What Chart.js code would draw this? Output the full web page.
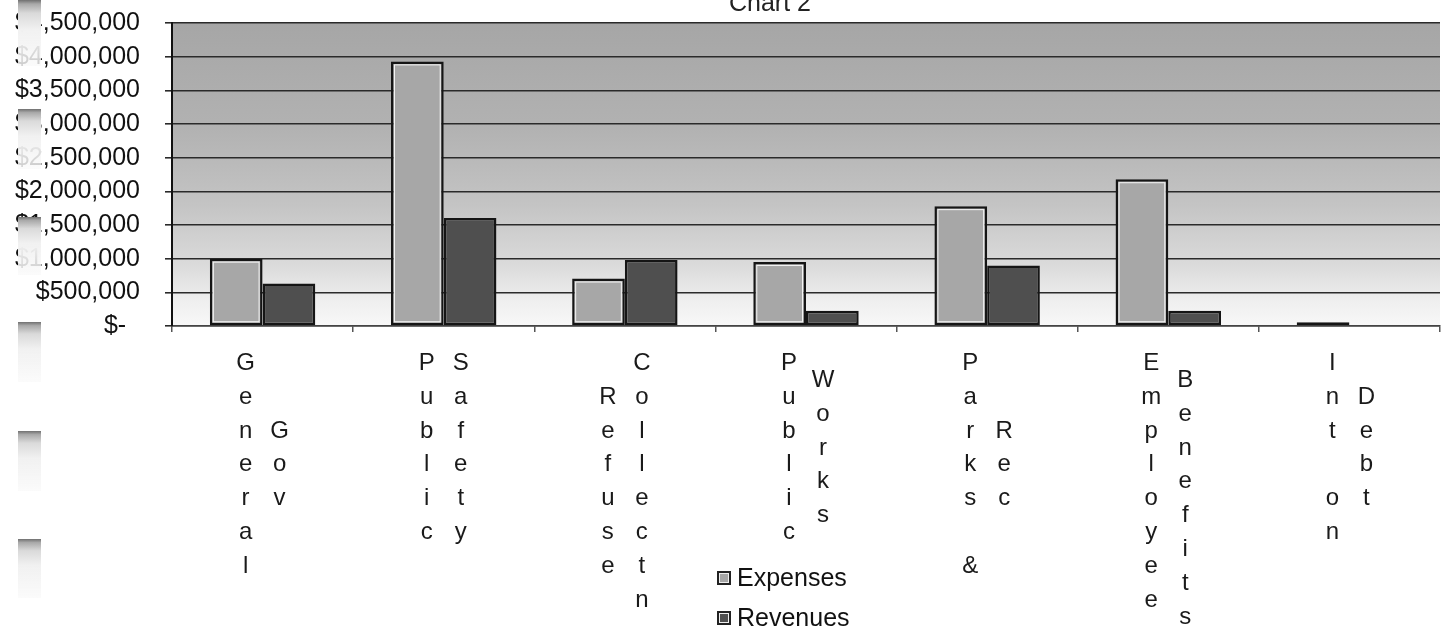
<!DOCTYPE html>
<html>
<head>
<meta charset="utf-8">
<script src="https://cdn.jsdelivr.net/npm/chart.js@4.4.1/dist/chart.umd.min.js"></script>
<style>
    html, body { margin: 0; padding: 0; background: #fff; overflow: hidden; }
    body { width: 1442px; height: 628px; position: relative; font-family: "Liberation Sans", Arial, sans-serif; }
    #chart2 { position: absolute; left: 0; top: 0; }
    #title { position: absolute; left: 670px; width: 200px; top: -13px; text-align: center;
             font-size: 25px; line-height: 30px; color: #222; }
    .blob { position: absolute; left: 18px; width: 23px;
            background: linear-gradient(#707070 0, #a9a9a9 6%, #dadada 20%, #f1f1f1 45%, rgba(250,250,250,0.8) 100%); }
    #legend { position: absolute; left: 717px; top: 562px; color: #111; font-size: 25px; }
    .legend-item { height: 40px; line-height: 30px; display: flex; align-items: flex-start; }
    .legend-box { width: 10px; height: 10px; border: 2px solid #222; margin: 9px 6px 0 0; box-shadow: inset 0 0 0 1px #eee; }
</style>
</head>
<body>
<canvas id="chart2" width="1442" height="628"></canvas>
<div id="title">Chart 2</div>
<div class="blob" style="top:0;height:66px"></div>
<div class="blob" style="top:109px;height:60px"></div>
<div class="blob" style="top:217px;height:58px"></div>
<div class="blob" style="top:322px;height:60px"></div>
<div class="blob" style="top:431px;height:60px"></div>
<div class="blob" style="top:539px;height:59px"></div>
<div id="legend"></div>
<script>
// category names, split the way the axis wraps them into two stacked columns
const categories = [
    ['General', 'Gov'],
    ['Public', 'Safety'],
    ['Refuse', 'Collectn'],
    ['Public', 'Works'],
    ['Parks &', 'Rec'],
    ['Employee ', 'Benefits'],
    ['Int on', 'Debt']
];
const expenses = [1000000, 3930000, 705000, 950000, 1780000, 2180000, 55000];
const revenues = [630000, 1605000, 980000, 225000, 900000, 225000, 0];
const seriesNames = ['Expenses', 'Revenues'];
const seriesColors = ['#a7a7a7', '#4f4f4f'];

const yMax = 4500000;
const yStep = 500000;

function moneyLabel(v) {
    if (v === 0) return '$-  ';
    return '$' + String(v).replace(/\B(?=(\d{3})+(?!\d))/g, ',');
}

// shaded plot background, dark at the top fading to white at the axis
const plotBackground = {
    id: 'plotBackground',
    beforeDraw(chart) {
        const { ctx, chartArea: a } = chart;
        const g = ctx.createLinearGradient(0, a.top, 0, a.bottom);
        g.addColorStop(0, '#a6a6a6');
        g.addColorStop(0.35, '#b2b2b2');
        g.addColorStop(0.6, '#c4c4c4');
        g.addColorStop(0.8, '#dbdbdb');
        g.addColorStop(0.92, '#efefef');
        g.addColorStop(1, '#f8f8f8');
        ctx.save();
        ctx.fillStyle = g;
        ctx.fillRect(a.left, a.top, a.right - a.left, a.bottom - a.top);
        ctx.restore();
    }
};

// thin white inner frame on the light bars
const barFrame = {
    id: 'barFrame',
    afterDatasetsDraw(chart) {
        const ctx = chart.ctx;
        const meta = chart.getDatasetMeta(0);
        ctx.save();
        ctx.strokeStyle = '#f4f4f4';
        ctx.lineWidth = 1;
        meta.data.forEach(bar => {
            const h = bar.base - bar.y;
            if (h < 10) return;
            ctx.strokeRect(bar.x - bar.width / 2 + 3.5, bar.y + 3.5, bar.width - 7, h - 7);
        });
        ctx.restore();
    }
};

// vertical stacked-letter category labels, one column per word
const stackedLabels = {
    id: 'stackedLabels',
    afterDraw(chart) {
        const ctx = chart.ctx;
        const xs = chart.scales.x;
        const rowH = 33.8;
        const firstBase = chart.chartArea.bottom + 44;
        ctx.save();
        ctx.font = '24px "Liberation Sans", Arial, sans-serif';
        ctx.fillStyle = '#1a1a1a';
        ctx.textAlign = 'center';
        ctx.textBaseline = 'alphabetic';
        categories.forEach((cols, i) => {
            const cx = xs.getPixelForValue(i);
            const maxLen = Math.max(...cols.map(c => c.length));
            cols.forEach((word, c) => {
                const colX = cx + (c === 0 ? -17 : 17);
                const shift = (maxLen - word.length) / 2;
                [...word].forEach((ch, r) => {
                    if (ch === ' ') return;
                    ctx.fillText(ch, colX, firstBase + (r + shift) * rowH);
                });
            });
        });
        ctx.restore();
    }
};

const ctx = document.getElementById('chart2').getContext('2d');
const chart = new Chart(ctx, {
    type: 'bar',
    data: {
        labels: categories.map(c => c.join(' ').replace(/\s+/g, ' ')),
        datasets: [
            {
                label: seriesNames[0],
                data: expenses,
                backgroundColor: seriesColors[0],
                borderColor: '#151515',
                borderWidth: 2.5,
                borderSkipped: false
            },
            {
                label: seriesNames[1],
                data: revenues,
                backgroundColor: seriesColors[1],
                borderColor: '#151515',
                borderWidth: 2.5,
                borderSkipped: false
            }
        ]
    },
    options: {
        responsive: false,
        animation: false,
        layout: { padding: { left: 0, right: 2, top: 23, bottom: 292 } },
        datasets: {
            bar: { categoryPercentage: 0.582, barPercentage: 1.0 }
        },
        scales: {
            x: {
                grid: {
                    offset: true,
                    drawOnChartArea: false,
                    tickLength: 6,
                    color: '#555',
                    lineWidth: 1.5
                },
                border: { color: '#444', width: 1.5 },
                ticks: { display: false },
                afterFit(scale) { scale.height = 10; }
            },
            y: {
                min: 0,
                max: yMax,
                ticks: {
                    stepSize: yStep,
                    autoSkip: false,
                    padding: 25,
                    color: '#111',
                    font: { family: '"Liberation Sans", Arial, sans-serif', size: 25 },
                    callback: v => moneyLabel(v)
                },
                grid: {
                    color: '#2a2a2a',
                    lineWidth: 1.6,
                    tickLength: 7
                },
                border: { color: '#111', width: 2 },
                afterFit(scale) {
                    scale.width = 172;
                    // top label may poke above the plot, like the original
                    scale.paddingTop = 0;
                    scale.paddingBottom = 0;
                }
            }
        },
        plugins: {
            legend: { display: false }, // drawn as html below
            tooltip: { enabled: false },
            title: { display: false } // html title, it sits off-centre in the original
        }
    },
    plugins: [plotBackground, barFrame, stackedLabels]
});

// legend stacked under the axis
document.getElementById('legend').innerHTML = chart.data.datasets.map(ds => {
    return `<div class="legend-item">
        <span class="legend-box" style="background:${ds.backgroundColor};"></span>
        <span>${ds.label}</span>
    </div>`;
}).join('');
</script>
</body>
</html>
